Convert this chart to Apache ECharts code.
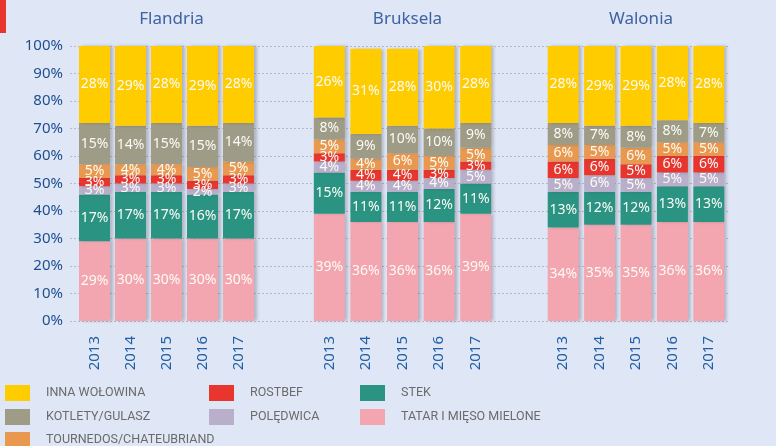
<!DOCTYPE html>
<html>
<head>
<meta charset="utf-8">
<script src="https://cdn.jsdelivr.net/npm/echarts@6/dist/echarts.min.js"></script>
<style>
  html, body { margin: 0; padding: 0; background: #dfe6f5; }
  #chart { width: 776px; height: 446px; }
</style>
</head>
<body>
<div id="chart"></div>
<script>
// Regions and years
const regions = ['Flandria', 'Bruksela', 'Walonia'];
const years = ['2013', '2014', '2015', '2016', '2017'];

// Segment names, bottom of the stack first
const segmentNames = [
  'TATAR I MIĘSO MIELONE',
  'STEK',
  'POLĘDWICA',
  'ROSTBEF',
  'TOURNEDOS/CHATEUBRIAND',
  'KOTLETY/GULASZ',
  'INNA WOŁOWINA'
];

// Shares (%) per segment, one value per year
const flandria = {
  tatar:     [29, 30, 30, 30, 30],
  stek:      [17, 17, 17, 16, 17],
  poledwica: [3, 3, 3, 2, 3],
  rostbef:   [3, 3, 3, 3, 3],
  tournedos: [5, 4, 4, 5, 5],
  kotlety:   [15, 14, 15, 15, 14],
  inna:      [28, 29, 28, 29, 28]
};
const bruksela = {
  tatar:     [39, 36, 36, 36, 39],
  stek:      [15, 11, 11, 12, 11],
  poledwica: [4, 4, 4, 4, 5],
  rostbef:   [3, 4, 4, 3, 3],
  tournedos: [5, 4, 6, 5, 5],
  kotlety:   [8, 9, 10, 10, 9],
  inna:      [26, 31, 28, 30, 28]
};
const walonia = {
  tatar:     [34, 35, 35, 36, 36],
  stek:      [13, 12, 12, 13, 13],
  poledwica: [5, 6, 5, 5, 5],
  rostbef:   [6, 6, 5, 6, 6],
  tournedos: [6, 5, 6, 5, 5],
  kotlety:   [8, 7, 8, 8, 7],
  inna:      [28, 29, 29, 28, 28]
};

const yTicks = [0, 10, 20, 30, 40, 50, 60, 70, 80, 90, 100];

const segmentKeys = ['tatar', 'stek', 'poledwica', 'rostbef', 'tournedos', 'kotlety', 'inna'];
const segmentColors = ['#f4a6b0', '#2a9382', '#b9afcb', '#e8352e', '#e8994f', '#9e9b86', '#ffcc00'];
const regionData = [flandria, bruksela, walonia];

const plotTop = 46, plotHeight = 275;
const groupGrids = [
  { left: 76.5, width: 180 },
  { left: 311, width: 183 },
  { left: 545, width: 182 }
];

// Background grid: carries the percentage axis and dotted guide lines
const grids = [{ left: 70, right: 48, top: plotTop, height: plotHeight }];
const xAxes = [{ gridIndex: 0, type: 'value', min: 0, max: 1, show: false }];
const yAxes = [{
  gridIndex: 0, type: 'value', min: 0, max: 100, interval: 10,
  axisLine: { show: false }, axisTick: { show: false },
  axisLabel: {
    formatter: v => yTicks.includes(v) ? v + '%' : '',
    color: '#1e4f91', fontSize: 15, margin: 7, fontFamily: 'Noto Sans'
  },
  splitLine: { lineStyle: { color: '#b3b9c8', type: [2, 2], width: 1 } }
}];

const series = [];
const titles = [];
groupGrids.forEach((g, gi) => {
  const idx = gi + 1;
  grids.push({ left: g.left, width: g.width, top: plotTop, height: plotHeight });
  xAxes.push({
    gridIndex: idx, type: 'category', data: years,
    axisLine: { show: false }, axisTick: { show: false },
    axisLabel: { rotate: 90, color: '#2160a6', fontSize: 15, margin: 15, fontFamily: 'Noto Sans' }
  });
  yAxes.push({ gridIndex: idx, type: 'value', min: 0, max: 100, show: false, splitLine: { show: false } });
  titles.push({
    text: regions[gi], left: g.left + g.width / 2, top: 6, textAlign: 'center',
    textStyle: { color: '#3d63a3', fontSize: 17, fontWeight: 'normal', fontFamily: 'Noto Sans' }
  });
  segmentKeys.forEach((k, si) => {
    series.push({
      name: segmentNames[si], type: 'bar', stack: 'r' + gi,
      xAxisIndex: idx, yAxisIndex: idx,
      barWidth: 31,
      data: regionData[gi][k],
      itemStyle: {
        color: segmentColors[si],
        shadowColor: 'rgba(70,70,90,0.30)', shadowBlur: 3, shadowOffsetX: 3
      },
      label: {
        show: true, position: 'inside', color: '#fbfbf6', fontSize: 14,
        fontFamily: 'Noto Sans', formatter: p => p.value + '%'
      }
    });
  });
});

// Legend: three columns, one legend block per entry
const legendSlots = [
  ['INNA WOŁOWINA', 5, 385],
  ['KOTLETY/GULASZ', 5, 409],
  ['TOURNEDOS/CHATEUBRIAND', 5, 432],
  ['ROSTBEF', 209, 385],
  ['POLĘDWICA', 209, 409],
  ['STEK', 360, 385],
  ['TATAR I MIĘSO MIELONE', 360, 409]
];
const legends = legendSlots.map(([name, left, top]) => ({
  data: [name], left: left, top: top, padding: 0,
  itemWidth: 25, itemHeight: 16, icon: 'rect',
  textStyle: { color: '#6b6b6b', fontSize: 12.5, fontFamily: 'Roboto', padding: [0, 0, 0, 11] }
}));

const chart = echarts.init(document.getElementById('chart'), null, { renderer: 'canvas' });
chart.setOption({
  backgroundColor: '#dfe6f5',
  animation: false,
  title: titles,
  grid: grids,
  xAxis: xAxes,
  yAxis: yAxes,
  legend: legends,
  graphic: [{ type: 'rect', left: 0, top: 0, shape: { width: 6, height: 33 }, style: { fill: '#e8352e' } }],
  series: series
});
</script>
</body>
</html>
